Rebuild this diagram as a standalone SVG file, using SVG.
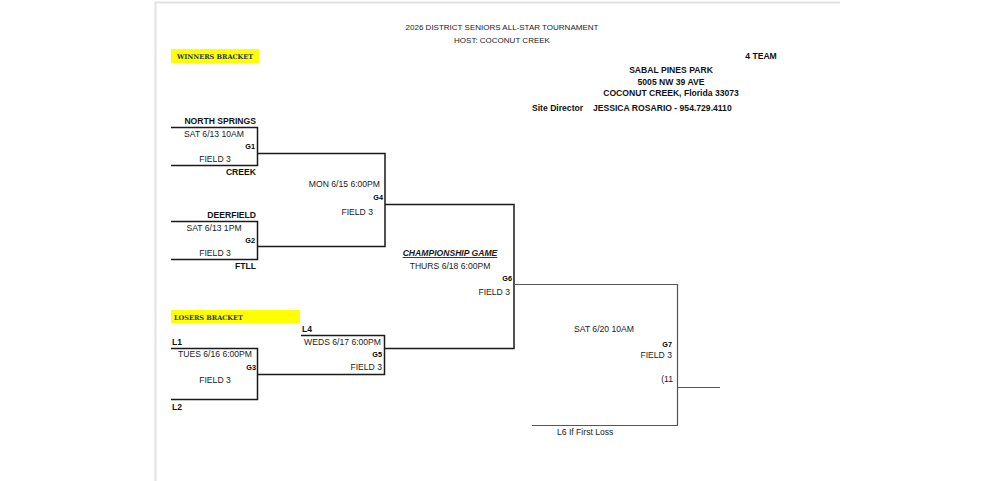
<svg xmlns="http://www.w3.org/2000/svg" width="995" height="481" viewBox="0 0 995 481">
<style>
.t{font-family:"Liberation Sans",Arial,sans-serif;font-size:8.6px;fill:#1a1a1a}
.tt{font-family:"Liberation Sans",Arial,sans-serif;font-size:8px;fill:#1a1a1a}
.b{font-family:"Liberation Sans",Arial,sans-serif;font-size:8.6px;font-weight:bold;fill:#111}
.g{font-family:"Liberation Sans",Arial,sans-serif;font-size:7.3px;font-weight:bold;fill:#000}
.hdr{font-family:"DejaVu Serif",serif;font-size:6.5px;font-weight:bold;fill:#1f3864}
.ln{stroke:#1a1a1a;stroke-width:1.5;fill:none}
.ln2{stroke:#555;stroke-width:1.2;fill:none}
.hl{fill:#ffff00}
</style>
<rect width="995" height="481" fill="#fff"/>
<g id="page">
<line x1="155.5" y1="2" x2="155.5" y2="481" stroke="#e2e2e2" stroke-width="2"/>
<line x1="155" y1="2.5" x2="840" y2="2.5" stroke="#e2e2e2" stroke-width="2"/>
</g>
<g id="header">
<text class="tt" x="502" y="30" text-anchor="middle">2026 DISTRICT SENIORS ALL-STAR TOURNAMENT</text>
<text class="tt" x="502" y="43" text-anchor="middle">HOST: COCONUT CREEK</text>
<text class="b" x="761" y="59" text-anchor="middle">4 TEAM</text>
<text class="b" x="671" y="73" text-anchor="middle">SABAL PINES PARK</text>
<text class="b" x="671" y="85" text-anchor="middle">5005 NW 39 AVE</text>
<text class="b" x="671" y="96" text-anchor="middle">COCONUT CREEK, Florida 33073</text>
<text class="b" x="532" y="111">Site Director</text>
<text class="b" x="593" y="111">JESSICA ROSARIO - 954.729.4110</text>
</g>
<g id="winners-label">
<rect class="hl" x="171" y="49" width="88" height="14"/>
<text class="hdr" x="215" y="59" text-anchor="middle">WINNERS BRACKET</text>
</g>
<g id="losers-label">
<rect class="hl" x="171" y="310" width="129" height="13"/>
<text class="hdr" x="174" y="320">LOSERS BRACKET</text>
</g>
<g id="connectors">
<polyline class="ln" points="171,127.5 257.5,127.5 257.5,165.5 171,165.5"/>
<polyline class="ln" points="171,221.5 257.5,221.5 257.5,259.5 171,259.5"/>
<polyline class="ln" points="258,153.5 385,153.5 385,246.5 258,246.5"/>
<polyline class="ln" points="385,204.5 514,204.5 514,348.5 385,348.5"/>
<polyline class="ln" points="171,348.5 257.5,348.5 257.5,399.5 171,399.5"/>
<polyline class="ln" points="301,335.5 384.5,335.5 384.5,374.5 258,374.5"/>
<polyline class="ln2" points="514,284.5 677.5,284.5 677.5,425.5 532,425.5"/>
<line class="ln2" x1="677.5" y1="387.5" x2="720" y2="387.5"/>
</g>
<g id="G1">
<text class="b" x="256" y="124" text-anchor="end">NORTH SPRINGS</text>
<text class="t" x="214" y="137" text-anchor="middle">SAT 6/13 10AM</text>
<text class="g" x="255" y="149" text-anchor="end">G1</text>
<text class="t" x="215" y="162" text-anchor="middle">FIELD 3</text>
<text class="b" x="256" y="175" text-anchor="end">CREEK</text>
</g>
<g id="G2">
<text class="b" x="256" y="218" text-anchor="end">DEERFIELD</text>
<text class="t" x="214" y="231" text-anchor="middle">SAT 6/13 1PM</text>
<text class="g" x="255" y="243" text-anchor="end">G2</text>
<text class="t" x="215" y="256" text-anchor="middle">FIELD 3</text>
<text class="b" x="256" y="269" text-anchor="end">FTLL</text>
</g>
<g id="G4">
<text class="t" x="380" y="187" text-anchor="end">MON 6/15 6:00PM</text>
<text class="g" x="383" y="200" text-anchor="end">G4</text>
<text class="t" x="373" y="215" text-anchor="end">FIELD 3</text>
</g>
<g id="G3">
<text class="b" x="172" y="345">L1</text>
<text class="t" x="215" y="357" text-anchor="middle">TUES 6/16 6:00PM</text>
<text class="g" x="256" y="370" text-anchor="end">G3</text>
<text class="t" x="215" y="383" text-anchor="middle">FIELD 3</text>
<text class="b" x="172" y="410">L2</text>
</g>
<g id="G5">
<text class="b" x="302" y="332">L4</text>
<text class="t" x="381" y="345" text-anchor="end">WEDS 6/17 6:00PM</text>
<text class="g" x="382" y="357" text-anchor="end">G5</text>
<text class="t" x="382" y="370" text-anchor="end">FIELD 3</text>
</g>
<g id="G6">
<text class="t" x="450" y="256" text-anchor="middle" font-style="italic" font-weight="bold" text-decoration="underline">CHAMPIONSHIP GAME</text>
<text class="t" x="450" y="269" text-anchor="middle">THURS 6/18 6:00PM</text>
<text class="g" x="512" y="281" text-anchor="end">G6</text>
<text class="t" x="510" y="295" text-anchor="end">FIELD 3</text>
</g>
<g id="G7">
<text class="t" x="604" y="332" text-anchor="middle">SAT 6/20 10AM</text>
<text class="g" x="672" y="347" text-anchor="end">G7</text>
<text class="t" x="672" y="358" text-anchor="end">FIELD 3</text>
<text class="t" x="673" y="382" text-anchor="end">(11</text>
<text class="t" x="557" y="435">L6 If First Loss</text>
</g>
</svg>
